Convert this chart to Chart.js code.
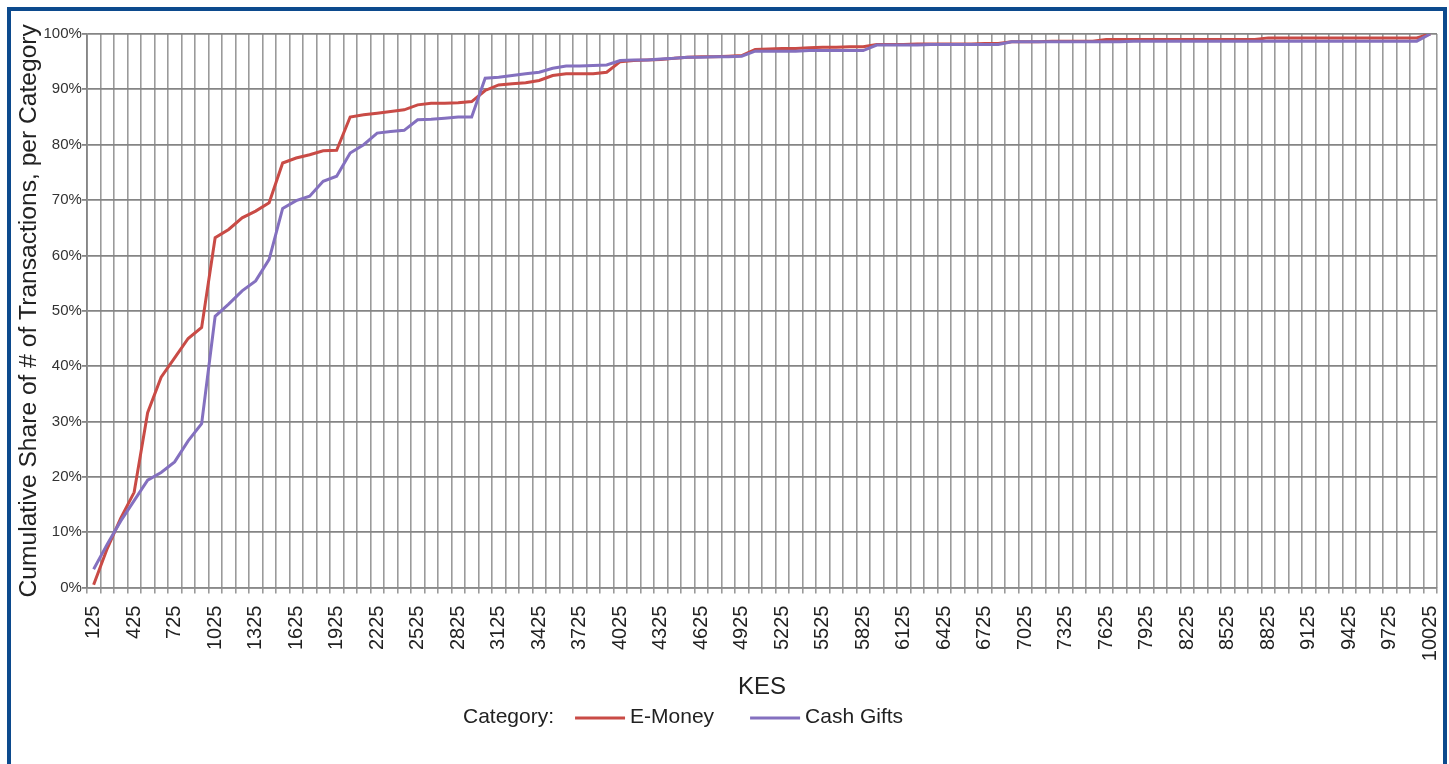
<!DOCTYPE html>
<html>
<head>
<meta charset="utf-8">
<script src="https://cdn.jsdelivr.net/npm/chart.js@4/dist/chart.umd.min.js"></script>
<style>
  html, body { margin: 0; padding: 0; background: #ffffff; overflow: hidden; }
  #frame {
    position: absolute; left: 7px; top: 7px; width: 1432px; height: 800px;
    border: 4px solid #0c4a8d; pointer-events: none;
  }
  #chart { position: absolute; left: 0; top: 0; }
</style>
</head>
<body>
<canvas id="chart" width="1449" height="764"></canvas>
<div id="frame"></div>
<script>
// KES buckets (x categories)
const kesLabels = [
  125, 225, 325, 425, 525, 625, 725, 825, 925, 1025,
  1125, 1225, 1325, 1425, 1525, 1625, 1725, 1825, 1925, 2025,
  2125, 2225, 2325, 2425, 2525, 2625, 2725, 2825, 2925, 3025,
  3125, 3225, 3325, 3425, 3525, 3625, 3725, 3825, 3925, 4025,
  4125, 4225, 4325, 4425, 4525, 4625, 4725, 4825, 4925, 5025,
  5125, 5225, 5325, 5425, 5525, 5625, 5725, 5825, 5925, 6025,
  6125, 6225, 6325, 6425, 6525, 6625, 6725, 6825, 6925, 7025,
  7125, 7225, 7325, 7425, 7525, 7625, 7725, 7825, 7925, 8025,
  8125, 8225, 8325, 8425, 8525, 8625, 8725, 8825, 8925, 9025,
  9125, 9225, 9325, 9425, 9525, 9625, 9725, 9825, 9925, 10025,
];

// cumulative share (%) per bucket
const eMoney = [
  0.5, 7, 12.5, 17.2, 31.6, 38, 41.5, 45, 47, 63.2,
  64.7, 66.8, 68, 69.5, 76.7, 77.6, 78.2, 78.9, 79, 85,
  85.4, 85.7, 86, 86.3, 87.2, 87.5, 87.5, 87.6, 87.8, 89.8,
  90.8, 91, 91.2, 91.6, 92.5, 92.8, 92.8, 92.8, 93.1, 95,
  95.2, 95.3, 95.4, 95.6, 95.8, 95.9, 95.9, 96, 96.1, 97.2,
  97.3, 97.4, 97.4, 97.5, 97.6, 97.6, 97.7, 97.7, 98.1, 98.1,
  98.1, 98.2, 98.2, 98.2, 98.2, 98.2, 98.3, 98.3, 98.6, 98.6,
  98.6, 98.7, 98.7, 98.7, 98.7, 99, 99, 99, 99, 99,
  99, 99, 99, 99, 99, 99, 99, 99.3, 99.3, 99.3,
  99.3, 99.3, 99.3, 99.3, 99.3, 99.3, 99.3, 99.3, 99.3, 100,
];

const cashGifts = [
  3.3, 7.8, 12, 15.7, 19.4, 20.8, 22.7, 26.5, 29.6, 49,
  51.2, 53.6, 55.4, 59.3, 68.5, 69.9, 70.7, 73.4, 74.3, 78.5,
  80, 82.1, 82.4, 82.6, 84.5, 84.6, 84.8, 85, 85, 92,
  92.2, 92.5, 92.8, 93.1, 93.8, 94.2, 94.2, 94.3, 94.4, 95.2,
  95.3, 95.3, 95.5, 95.6, 95.8, 95.8, 95.9, 95.9, 96, 96.9,
  96.9, 96.9, 96.9, 97, 97, 97, 97, 97, 98, 98,
  98, 98, 98.1, 98.1, 98.1, 98.1, 98.1, 98.1, 98.6, 98.6,
  98.6, 98.6, 98.6, 98.6, 98.6, 98.6, 98.6, 98.7, 98.7, 98.7,
  98.7, 98.7, 98.7, 98.7, 98.7, 98.7, 98.7, 98.7, 98.7, 98.7,
  98.7, 98.7, 98.7, 98.7, 98.7, 98.7, 98.7, 98.7, 98.7, 100,
];

const seriesNames = ["E-Money", "Cash Gifts"];
const seriesColors = ["#c94b46", "#8470bf"];
const legendTitle = "Category:";

const FONT = "'Liberation Sans', Arial, sans-serif";

// legend drawn as "Category:  —— E-Money   —— Cash Gifts"
const inlineLegend = {
  id: "inlineLegend",
  afterDraw(chart) {
    const ctx = chart.ctx;
    const y = 717;
    let x = 463;
    ctx.save();
    ctx.font = "21px " + FONT;
    ctx.fillStyle = "#222";
    ctx.textBaseline = "middle";
    ctx.fillText(legendTitle, x, y);
    x += ctx.measureText(legendTitle).width + 21;
    chart.data.datasets.forEach((ds) => {
      ctx.strokeStyle = ds.borderColor;
      ctx.lineWidth = 3;
      ctx.beginPath();
      ctx.moveTo(x, y + 1);
      ctx.lineTo(x + 50, y + 1);
      ctx.stroke();
      x += 55;
      ctx.fillStyle = "#222";
      ctx.fillText(ds.label, x, y);
      x += ctx.measureText(ds.label).width + 36;
    });
    ctx.restore();
  },
};

new Chart(document.getElementById("chart"), {
  type: "line",
  data: {
    labels: kesLabels,
    datasets: [
      {
        label: seriesNames[0],
        data: eMoney,
        borderColor: seriesColors[0],
        backgroundColor: seriesColors[0],
        borderWidth: 3,
        pointRadius: 0,
        tension: 0,
        order: 2,
      },
      {
        label: seriesNames[1],
        data: cashGifts,
        borderColor: seriesColors[1],
        backgroundColor: seriesColors[1],
        borderWidth: 3,
        pointRadius: 0,
        tension: 0,
        order: 1,
      },
    ],
  },
  options: {
    responsive: false,
    animation: false,
    layout: { padding: { left: 10, right: 12, top: 34, bottom: 62 } },
    plugins: {
      legend: { display: false },
      tooltip: { enabled: false },
    },
    scales: {
      x: {
        offset: true,
        // the last rotated label fits inside the offset, no extra room needed
        afterFit: (scale) => {
          scale.paddingRight = 0;
        },
        grid: {
          offset: true,
          color: "#9a9a9a",
          lineWidth: 1.6,
          tickLength: 6,
        },
        border: { color: "#8a8a8a", width: 1.6 },
        ticks: {
          autoSkip: false,
          minRotation: 90,
          maxRotation: 90,
          padding: 12,
          color: "#222",
          font: { family: FONT, size: 20 },
          callback: function (value, index) {
            return index % 3 === 0 ? this.getLabelForValue(value) : "";
          },
        },
        title: {
          display: true,
          text: "KES",
          color: "#222",
          font: { family: FONT, size: 24 },
          padding: { top: 0, bottom: 0 },
        },
      },
      y: {
        min: 0,
        max: 100,
        grid: { color: "#858585", lineWidth: 1.8, tickLength: 5 },
        border: { color: "#858585", width: 1.8 },
        ticks: {
          stepSize: 10,
          padding: 0,
          color: "#333",
          font: { family: FONT, size: 15 },
          callback: (v) => v + "%",
        },
        title: {
          display: true,
          text: "Cumulative Share of # of Transactions, per Category",
          color: "#222",
          font: { family: FONT, size: 24.6 },
          padding: { top: 4, bottom: 0 },
        },
      },
    },
  },
  plugins: [inlineLegend],
});
</script>
</body>
</html>
